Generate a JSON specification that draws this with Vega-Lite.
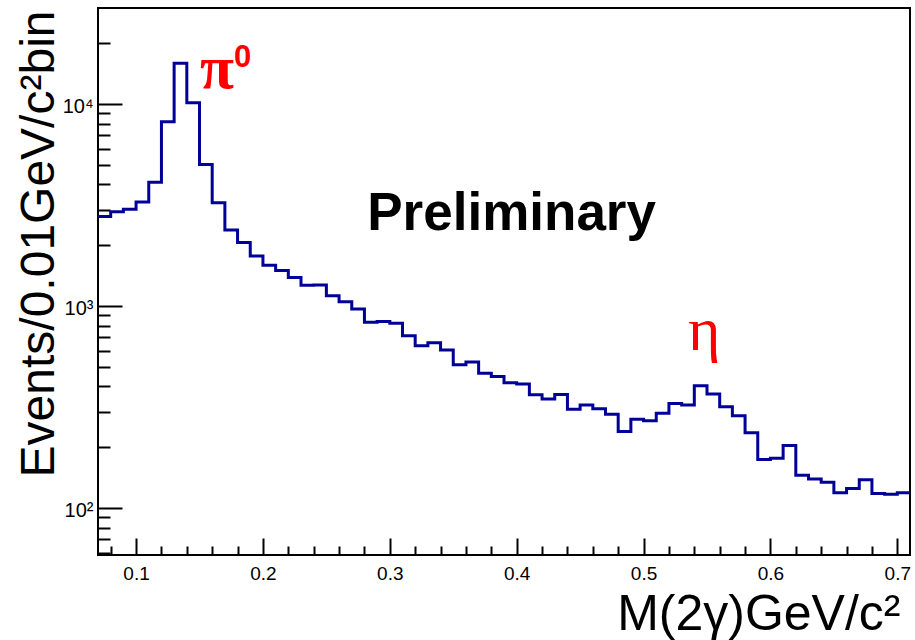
{
  "$schema": "https://vega.github.io/schema/vega-lite/v6.json",
  "width": 812,
  "height": 547,
  "autosize": {"type": "none"},
  "padding": {"left": 98, "top": 8, "right": 5, "bottom": 85},
  "background": "white",
  "config": {
    "view": {"stroke": "black", "strokeWidth": 2},
    "axis": {
      "grid": false,
      "domain": false,
      "labelFont": "Liberation Sans",
      "labelColor": "black",
      "titleFont": "Liberation Sans",
      "titleFontWeight": "normal",
      "titleColor": "black"
    }
  },
  "datasets": {
    "hist": [
      {"mass": 0.07, "events": 2770}, {"mass": 0.08, "events": 2930}, {"mass": 0.09, "events": 3010},
      {"mass": 0.10, "events": 3270}, {"mass": 0.11, "events": 4100}, {"mass": 0.12, "events": 8170},
      {"mass": 0.13, "events": 15900}, {"mass": 0.14, "events": 10150}, {"mass": 0.15, "events": 5010},
      {"mass": 0.16, "events": 3245}, {"mass": 0.17, "events": 2380}, {"mass": 0.18, "events": 2060},
      {"mass": 0.19, "events": 1770}, {"mass": 0.20, "events": 1590}, {"mass": 0.21, "events": 1500},
      {"mass": 0.22, "events": 1385}, {"mass": 0.23, "events": 1265}, {"mass": 0.24, "events": 1270},
      {"mass": 0.25, "events": 1125}, {"mass": 0.26, "events": 1050}, {"mass": 0.27, "events": 966},
      {"mass": 0.28, "events": 830}, {"mass": 0.29, "events": 838}, {"mass": 0.30, "events": 821},
      {"mass": 0.31, "events": 713}, {"mass": 0.32, "events": 636}, {"mass": 0.33, "events": 658},
      {"mass": 0.34, "events": 605}, {"mass": 0.35, "events": 512}, {"mass": 0.36, "events": 528},
      {"mass": 0.37, "events": 464}, {"mass": 0.38, "events": 447}, {"mass": 0.39, "events": 417},
      {"mass": 0.40, "events": 411}, {"mass": 0.41, "events": 363}, {"mass": 0.42, "events": 346},
      {"mass": 0.43, "events": 365}, {"mass": 0.44, "events": 308}, {"mass": 0.45, "events": 323},
      {"mass": 0.46, "events": 310}, {"mass": 0.47, "events": 291}, {"mass": 0.48, "events": 239},
      {"mass": 0.49, "events": 275}, {"mass": 0.50, "events": 270}, {"mass": 0.51, "events": 294},
      {"mass": 0.52, "events": 329}, {"mass": 0.53, "events": 323}, {"mass": 0.54, "events": 403},
      {"mass": 0.55, "events": 367}, {"mass": 0.56, "events": 317}, {"mass": 0.57, "events": 286},
      {"mass": 0.58, "events": 236}, {"mass": 0.59, "events": 174}, {"mass": 0.60, "events": 176},
      {"mass": 0.61, "events": 204}, {"mass": 0.62, "events": 145}, {"mass": 0.63, "events": 139},
      {"mass": 0.64, "events": 134}, {"mass": 0.65, "events": 119}, {"mass": 0.66, "events": 125},
      {"mass": 0.67, "events": 138}, {"mass": 0.68, "events": 118}, {"mass": 0.69, "events": 117},
      {"mass": 0.70, "events": 119}, {"mass": 0.71, "events": 119}
    ],
    "notes": [
      {"kind": "prelim", "x": 0.396, "y": 2377, "label": "Preliminary"},
      {"kind": "greek", "x": 0.1504, "y": 12000, "label": "π"},
      {"kind": "sup", "x": 0.1772, "y": 15250, "label": "0"},
      {"kind": "eta", "x": 0.535, "y": 605, "label": "η"}
    ]
  },
  "layer": [
    {
      "data": {"name": "hist"},
      "mark": {"type": "line", "interpolate": "step-after", "color": "#000099", "strokeWidth": 3, "strokeJoin": "miter", "strokeCap": "butt"},
      "encoding": {
        "x": {
          "field": "mass", "type": "quantitative",
          "scale": {"domain": [0.07, 0.71], "nice": false, "zero": false},
          "axis": {
            "orient": "bottom",
            "values": [0.1, 0.2, 0.3, 0.4, 0.5, 0.6, 0.7],
            "format": ".1f",
            "offset": -17,
            "ticks": true,
            "tickSize": 17,
            "tickColor": "#000000",
            "tickWidth": 2,
            "tickOpacity": 1,
            "labelPadding": 9,
            "labelFontSize": 19,
            "title": "M(2γ)GeV/c²",
            "titleFontSize": 50,
            "titleAnchor": "end",
            "titleAlign": "right",
            "titleBaseline": "alphabetic",
            "titleX": 802,
            "titleY": 91
          }
        },
        "y": {
          "field": "events", "type": "quantitative",
          "scale": {"type": "log", "domain": [58.5, 29860], "nice": false},
          "axis": {
            "orient": "left",
            "values": [100, 1000, 10000],
            "labelExpr": "datum.value == 100 ? '10²' : datum.value == 1000 ? '10³' : '10⁴'",
            "offset": -24,
            "ticks": true,
            "tickSize": 24,
            "tickColor": "#000000",
            "tickWidth": 2,
            "tickOpacity": 1,
            "labelPadding": 5,
            "labelFontSize": 20,
            "labelOffset": 3,
            "title": "Events/0.01GeV/c²bin",
            "titleFontSize": 48,
            "titleAngle": 270,
            "titleAnchor": "end",
            "titleAlign": "right",
            "titleBaseline": "alphabetic",
            "titleX": -69,
            "titleY": 2
          }
        }
      }
    },
    {
      "data": {"name": "notes"},
      "transform": [{"filter": "datum.kind == 'prelim'"}],
      "mark": {"type": "text", "font": "Liberation Sans", "fontWeight": "bold", "fontSize": 53, "align": "center", "baseline": "alphabetic", "color": "black"},
      "encoding": {
        "x": {
          "field": "x", "type": "quantitative",
          "axis": {
            "orient": "bottom",
            "values": [0.08, 0.12, 0.14, 0.16, 0.18, 0.22, 0.24, 0.26, 0.28, 0.32, 0.34, 0.36, 0.38, 0.42, 0.44, 0.46, 0.48, 0.52, 0.54, 0.56, 0.58, 0.62, 0.64, 0.66, 0.68],
            "offset": -9,
            "ticks": true,
            "tickSize": 9,
            "tickColor": "#000000",
            "tickWidth": 2,
            "tickOpacity": 1,
            "labels": false,
            "title": null
          }
        },
        "y": {
          "field": "y", "type": "quantitative",
          "axis": {
            "orient": "left",
            "values": [60, 70, 80, 90, 200, 300, 400, 500, 600, 700, 800, 900, 2000, 3000, 4000, 5000, 6000, 7000, 8000, 9000, 20000],
            "offset": -12,
            "ticks": true,
            "tickSize": 12,
            "tickColor": "#000000",
            "tickWidth": 2,
            "tickOpacity": 1,
            "labels": false,
            "title": null
          }
        },
        "text": {"field": "label"}
      }
    },
    {
      "data": {"name": "notes"},
      "transform": [{"filter": "datum.kind == 'greek'"}],
      "mark": {"type": "text", "font": "Liberation Serif", "fontWeight": "bold", "fontSize": 62, "align": "left", "baseline": "alphabetic", "color": "#ff0000"},
      "encoding": {
        "x": {"field": "x", "type": "quantitative", "axis": null},
        "y": {"field": "y", "type": "quantitative", "axis": null},
        "text": {"field": "label"}
      }
    },
    {
      "data": {"name": "notes"},
      "transform": [{"filter": "datum.kind == 'eta'"}],
      "mark": {"type": "text", "font": "Liberation Serif", "fontSize": 62, "align": "left", "baseline": "alphabetic", "color": "#ff0000"},
      "encoding": {
        "x": {"field": "x", "type": "quantitative", "axis": null},
        "y": {"field": "y", "type": "quantitative", "axis": null},
        "text": {"field": "label"}
      }
    },
    {
      "data": {"name": "notes"},
      "transform": [{"filter": "datum.kind == 'sup'"}],
      "mark": {"type": "text", "font": "Liberation Sans", "fontWeight": "bold", "fontSize": 31, "align": "left", "baseline": "alphabetic", "color": "#ff0000"},
      "encoding": {
        "x": {"field": "x", "type": "quantitative", "axis": null},
        "y": {"field": "y", "type": "quantitative", "axis": null},
        "text": {"field": "label"}
      }
    }
  ],
  "resolve": {"axis": {"x": "independent", "y": "independent"}}
}
